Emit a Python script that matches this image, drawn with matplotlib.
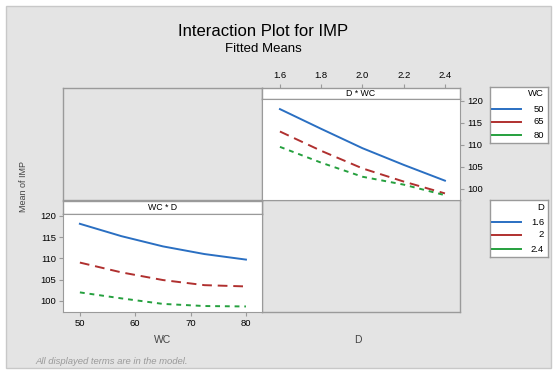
import matplotlib
matplotlib.use("Agg")
import matplotlib.pyplot as plt
from matplotlib.patches import Rectangle
from matplotlib.lines import Line2D

plt.rcParams['font.family'] = ['Liberation Sans', 'DejaVu Sans']

# Fitted means of IMP
d_levels = [1.6, 1.8, 2.0, 2.2, 2.4]
wc_levels = [50, 57.5, 65, 72.5, 80]

# IMP vs D, one line per WC level
imp_wc50 = [118.1, 113.6, 109.2, 105.4, 101.8]
imp_wc65 = [113.0, 108.6, 104.6, 101.6, 98.9]
imp_wc80 = [109.5, 105.9, 102.7, 100.9, 98.5]

# IMP vs WC, one line per D level
imp_d16 = [118.1, 115.2, 112.8, 111.0, 109.7]
imp_d20 = [109.0, 106.7, 104.9, 103.7, 103.4]
imp_d24 = [102.0, 100.6, 99.3, 98.8, 98.7]

wc_labels = ["50", "65", "80"]
d_labels = ["1.6", "2", "2.4"]
y_ticks = [100, 105, 110, 115, 120]
d_ticks = [1.6, 1.8, 2.0, 2.2, 2.4]
d_tick_labels = ["1.6", "1.8", "2.0", "2.2", "2.4"]
wc_ticks = [50, 60, 70, 80]

W, H = 557, 374
BG = "#e4e4e4"
EDGE = "#9a9a9a"
colors = ["#2a6fc2", "#b0302f", "#25a03e"]
styles = ["-", (0, (5, 3)), (0, (2.5, 2.5))]

fig = plt.figure(figsize=(W / 100, H / 100), dpi=100, facecolor="white")


def box(x0, y0, x1, y1):
    return [x0 / W, 1 - y1 / H, (x1 - x0) / W, (y1 - y0) / H]


def fx(x):
    return x / W


def fy(y):
    return 1 - y / H


# outer frame
fig.add_artist(Rectangle((6 / W, 1 - 368 / H), 545 / W, 362 / H,
                         transform=fig.transFigure, facecolor=BG,
                         edgecolor="#c8c8c8", lw=1, zorder=-10))


def blank(ax, face):
    ax.set_facecolor(face)
    ax.set_xticks([])
    ax.set_yticks([])
    for s in ax.spines.values():
        s.set_color(EDGE)
        s.set_linewidth(1.0)


YLIM = (97.4, 120.4)
DLIM = (1.513, 2.473)
fs = 6.8

# empty panels
blank(fig.add_axes(box(63, 88, 262, 200)), BG)
blank(fig.add_axes(box(262, 200, 460, 312)), BG)

# strips
s1 = fig.add_axes(box(262, 88, 460, 99))
blank(s1, "white")
s1.text(0.5, 0.5, "D * WC", ha="center", va="center", fontsize=6.3,
        transform=s1.transAxes)
s1.set_xlim(*DLIM)
s1.xaxis.tick_top()
s1.set_xticks(d_ticks)
s1.set_xticklabels(d_tick_labels)
s1.tick_params(axis="x", labelsize=fs, length=3, color=EDGE, pad=3)

s2 = fig.add_axes(box(63, 201, 262, 214))
blank(s2, "white")
s2.text(0.5, 0.5, "WC * D", ha="center", va="center", fontsize=6.3,
        transform=s2.transAxes)

# D * WC panel
ax1 = fig.add_axes(box(262, 99, 460, 200))
for vals, c, ls in zip([imp_wc50, imp_wc65, imp_wc80], colors, styles):
    ax1.plot(d_levels, vals, color=c, ls=ls, lw=1.4)
ax1.set_xlim(*DLIM)
ax1.set_ylim(*YLIM)
ax1.set_xticks([])
ax1.yaxis.tick_right()
ax1.set_yticks(y_ticks)
ax1.tick_params(labelsize=fs, length=3, color=EDGE, pad=2)
for s in ax1.spines.values():
    s.set_color(EDGE)

# WC * D panel
ax2 = fig.add_axes(box(63, 214, 262, 312))
for vals, c, ls in zip([imp_d16, imp_d20, imp_d24], colors, styles):
    ax2.plot(wc_levels, vals, color=c, ls=ls, lw=1.4)
ax2.set_xlim(46.95, 82.9)
ax2.set_ylim(*YLIM)
ax2.set_xticks(wc_ticks)
ax2.set_yticks(y_ticks)
ax2.tick_params(labelsize=fs, length=3, color=EDGE, pad=2)
for s in ax2.spines.values():
    s.set_color(EDGE)

# titles and labels
fig.text(fx(263), fy(31), "Interaction Plot for IMP", ha="center",
         va="center", fontsize=12)
fig.text(fx(263), fy(49), "Fitted Means", ha="center", va="center",
         fontsize=9.5)
fig.text(fx(163), fy(340), "WC", ha="center", va="center", fontsize=7.5,
         color="#444444")
fig.text(fx(358), fy(340), "D", ha="center", va="center", fontsize=7.5,
         color="#444444")
fig.text(fx(23), fy(186), "Mean of IMP", ha="center", va="center",
         rotation=90, fontsize=6.5, color="#444444")
fig.text(fx(35), fy(362), "All displayed terms are in the model.",
         ha="left", va="center", fontsize=6.8, color="#9a9a9a", style="italic")


# legends: boxed key with title and entries right-aligned
def legend(y0, y1, title, labels, title_y, entry_y):
    blank(fig.add_axes(box(490, y0, 548, y1)), "white")
    fig.text(fx(544), fy(title_y), title, ha="right", va="center",
             fontsize=fs)
    for lab, c, yy in zip(labels, colors, entry_y):
        fig.add_artist(Line2D([fx(492), fx(521)], [fy(yy), fy(yy)],
                              color=c, lw=1.4, transform=fig.transFigure))
        fig.text(fx(544), fy(yy), lab, ha="right", va="center", fontsize=fs)


legend(87, 143, "WC", wc_labels, 94, [109, 122, 135])
legend(200, 257, "D", d_labels, 208, [222, 235, 249])

fig.savefig("out.png", dpi=100, facecolor="white")
